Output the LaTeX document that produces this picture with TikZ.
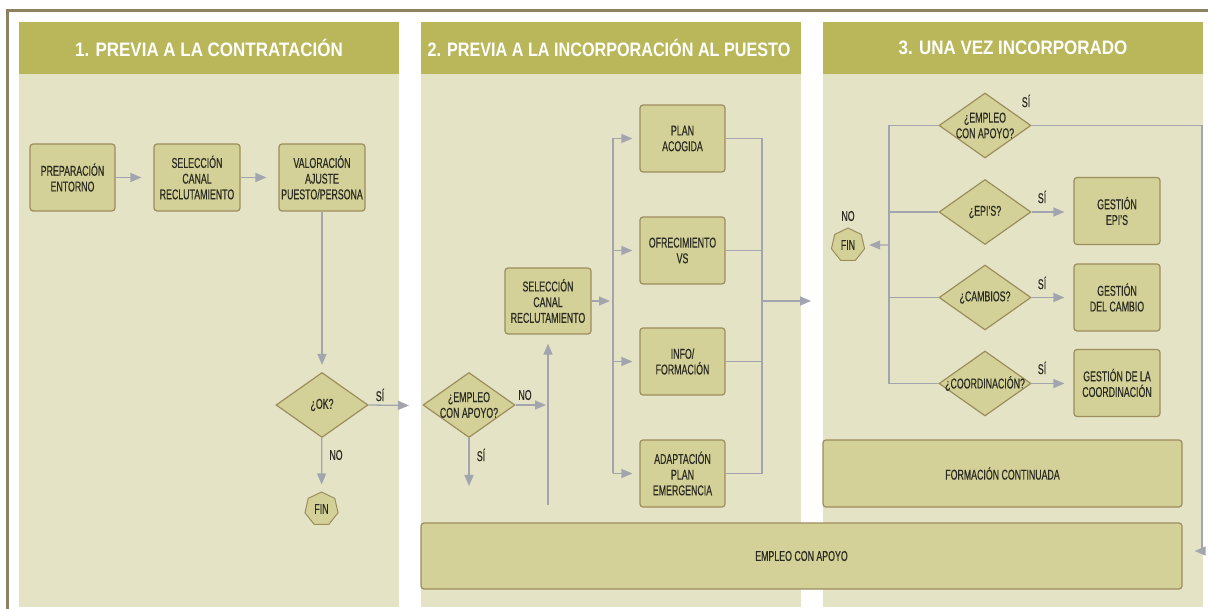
\documentclass[tikz,border=0pt]{standalone}
\usepackage{fontspec}
\setmainfont{Liberation Sans}[FakeStretch=0.62,FakeBold=0.4]
\newfontfamily\hdrfont{Liberation Sans}[FakeStretch=0.87]
\newfontfamily\hdrfontb{Liberation Sans}[FakeStretch=0.83]
\usetikzlibrary{arrows.meta,shapes.geometric}
\definecolor{hdr}{HTML}{B9B75A}
\definecolor{body}{HTML}{E4E3C5}
\definecolor{boxfill}{HTML}{D3D197}
\definecolor{boxline}{HTML}{9C8D5D}
\definecolor{frame}{HTML}{8C8262}
\definecolor{arrcol}{HTML}{A2A5AD}
\definecolor{txtcol}{HTML}{2A2A22}
\newcommand\bxfont{\fontsize{14.2}{15.7}\selectfont}
\newcommand\hdfont{\hdrfont\bfseries\fontsize{19.5}{22}\selectfont}
\newcommand\hdfontb{\hdrfontb\bfseries\fontsize{19.5}{22}\selectfont}
\begin{document}
\begin{tikzpicture}[x=1pt,y=-1pt,
  hdrtxt/.style={font=\hdfont, text=white, inner sep=0pt},
  box/.style={draw=boxline, fill=boxfill, rounded corners=3pt, line width=1.2pt,
    inner sep=0pt, align=center, font=\bxfont, text=txtcol,
    minimum width=86pt, minimum height=67pt},
  dia/.style={draw=boxline, fill=boxfill, diamond, line width=1.2pt,
    minimum width=92pt, minimum height=65pt, inner sep=0pt},
  fin/.style={draw=boxline, fill=boxfill, regular polygon, regular polygon sides=7,
    minimum size=34pt, inner sep=0pt, line width=1pt, font=\bxfont, text=txtcol},
  lbl/.style={font=\bxfont, text=txtcol, inner sep=0pt, align=center},
  ln/.style={draw=arrcol, line width=1.3pt},
  arr/.style={ln, -{Triangle[length=11pt,width=9pt]}}]
\useasboundingbox (0,0) rectangle (1208,609);
% frame
\draw[frame, line width=2.4pt] (7.3,609) -- (7.3,10.5) -- (1208,10.5);
% columns
\fill[body] (19,74) rectangle (399,607);
\fill[hdr] (19,22) rectangle (399,74);
\fill[body] (421,74) rectangle (801,607);
\fill[hdr] (421,22) rectangle (801,74);
\fill[body] (823,74) rectangle (1203,607);
\fill[hdr] (823,22) rectangle (1203,74);
\node[hdrtxt] (h1) at (209,48) {1. PREVIA A LA CONTRATACIÓN};
\node[hdrtxt, font=\hdfontb] (h2) at (609,48) {2. PREVIA A LA INCORPORACIÓN AL PUESTO};
\node[hdrtxt] (h3) at (1013,48) {3. UNA VEZ INCORPORADO};

% ---- column 1
\node[box, minimum width=85pt] (prep) at (72.5,177.5) {PREPARACIÓN\\ENTORNO};
\node[box] (sel1) at (197,177.5) {SELECCIÓN\\CANAL\\RECLUTAMIENTO};
\node[box] (val) at (322,177.5) {VALORACIÓN\\AJUSTE\\PUESTO/PERSONA};
\node[dia, label={[lbl]center:¿OK?}] (ok) at (322,405) {};
\node[fin] (fin1) at (321.5,509) {FIN};
\draw[arr, shorten >=12pt] (prep) -- (sel1);
\draw[arr, shorten >=12pt] (sel1) -- (val);
\draw[arr, shorten >=7pt] (val) -- (ok);
\coordinate (okyes) at (409,405.5);
\draw[arr] (ok.east) -- (okyes);
\node[lbl] (siok) at (380,395) {SÍ};
\draw[arr, shorten >=7pt] (ok) -- (fin1);
\node[lbl] (nook) at (336,455) {NO};

% ---- column 2
\node[dia, label={[lbl]center:{¿EMPLEO\\CON APOYO?}}] (ea2) at (469,405) {};
\coordinate (ea2no) at (546,405);
\coordinate (ea2si) at (469,486);
\draw[arr] (ea2.east) -- (ea2no);
\draw[arr] (ea2.south) -- (ea2si);
\node[lbl] (no2) at (525,395) {NO};
\node[lbl] (si2) at (481,455) {SÍ};
\node[box, minimum height=66pt] (sel2) at (548,301) {SELECCIÓN\\CANAL\\RECLUTAMIENTO};
\coordinate (up2) at (548,505);
\draw[arr, shorten >=9pt] (up2) -- (sel2);
\node[box, minimum width=85pt] (plan) at (682.5,138.5) {PLAN\\ACOGIDA};
\node[box, minimum width=85pt] (ofr) at (682.5,250.5) {OFRECIMIENTO\\VS};
\node[box, minimum width=85pt] (info) at (682.5,361.5) {INFO/\\FORMACIÓN};
\node[box, minimum width=85pt] (adap) at (682.5,473.5) {ADAPTACIÓN\\PLAN\\EMERGENCIA};
\coordinate (spl) at (610,301);
\draw[arr] (sel2.east) -- (spl);
\coordinate (bt) at (613,138.5);
\coordinate (bb) at (613,473.5);
\draw[ln] (bt) -- (bb);
\draw[arr, shorten >=7pt] (bt) -- (plan);
\draw[arr, shorten >=7pt] (613,250.5) -- (ofr);
\draw[arr, shorten >=7pt] (613,361.5) -- (info);
\draw[arr, shorten >=7pt] (bb) -- (adap);
\coordinate (mt) at (762,138.5);
\coordinate (mb) at (762,473.5);
\draw[ln] (plan.east) -- (mt) -- (mb) -- (adap.east);
\draw[ln] (ofr.east) -- (ofr.east -| mt);
\draw[ln] (info.east) -- (info.east -| mt);
\coordinate (mo) at (762,301);
\coordinate (mout) at (811,301);
\draw[arr] (mo) -- (mout);

% ---- column 3
\node[dia, label={[lbl]center:{¿EMPLEO\\CON APOYO?}}] (ea3) at (985,125.5) {};
\node[dia, label={[lbl]center:¿EPI'S?}] (epi) at (985,212) {};
\node[dia, label={[lbl]center:¿CAMBIOS?}] (cam) at (985,297.5) {};
\node[dia, label={[lbl]center:¿COORDINACIÓN?}] (coo) at (985,383.5) {};
\node[box] (gepi) at (1117,211) {GESTIÓN\\EPI'S};
\node[box] (gcam) at (1117,297.5) {GESTIÓN\\DEL CAMBIO};
\node[box] (gcoo) at (1117,383) {GESTIÓN DE LA\\COORDINACIÓN};
\node[fin] (fin3) at (848,245) {FIN};
\node[lbl] (no3) at (848,216) {NO};
\coordinate (vt) at (889,125.5);
\coordinate (vb) at (889,383.5);
\draw[ln] (ea3.west) -- (vt) -- (vb) -- (coo.west);
\draw[ln] (889,212) -- (epi.west);
\draw[ln] (889,297.5) -- (cam.west);
\draw[arr, shorten >=5pt] (889,245) -- (fin3);
\draw[arr, shorten >=9pt] (epi.east) -- (gepi.west |- epi.east);
\draw[arr, shorten >=9pt] (cam.east) -- (gcam.west |- cam.east);
\draw[arr, shorten >=9pt] (coo.east) -- (gcoo.west |- coo.east);
\node[lbl] (si3a) at (1026,101) {SÍ};
\node[lbl] (si3b) at (1042,197) {SÍ};
\node[lbl] (si3c) at (1042,283) {SÍ};
\node[lbl] (si3d) at (1042,368) {SÍ};
\node[box, minimum width=359pt] (form) at (1002.5,473.5) {FORMACIÓN CONTINUADA};
\node[box, minimum width=761pt, minimum height=66pt] (emp) at (801.5,556) {EMPLEO CON APOYO};
\coordinate (rc) at (1202,551);
\draw[arr, shorten >=12pt] (ea3.east) -| (rc) -- (emp.east |- rc);
\end{tikzpicture}
\end{document}
